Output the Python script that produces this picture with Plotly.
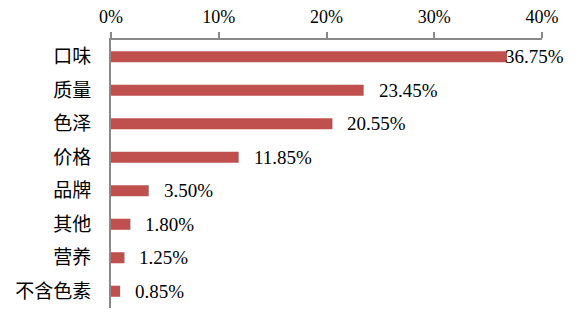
import plotly.graph_objects as go

# Survey factors and share of respondents (%)
categories = ["口味", "质量", "色泽", "价格", "品牌", "其他", "营养", "不含色素"]
shares = [36.75, 23.45, 20.55, 11.85, 3.50, 1.80, 1.25, 0.85]
tick_values = [0, 10, 20, 30, 40]
tick_labels = ["0%", "10%", "20%", "30%", "40%"]

bar_color = "#C0504D"
axis_gray = "#898989"
num_font = "Liberation Serif"
cjk_font = "Noto Sans CJK SC"

fig = go.Figure(
    go.Bar(
        x=shares,
        y=categories,
        orientation="h",
        width=0.33,
        marker=dict(color=bar_color, line=dict(width=0)),
        hoverinfo="skip",
    )
)

# Value labels placed just past each bar end; the longest one is pulled back
# so it stays inside the figure.
for cat, v in zip(categories, shares):
    fig.add_annotation(
        x=v,
        y=cat,
        xref="x",
        yref="y",
        text=f"{v:.2f}%",
        showarrow=False,
        xanchor="left",
        yanchor="middle",
        xshift=-4 if v == max(shares) else 13,
        font=dict(family=num_font, size=19, color="#000000"),
    )

fig.update_layout(
    width=577,
    height=331,
    margin=dict(l=111, r=35, t=40, b=23, autoexpand=False),
    paper_bgcolor="white",
    plot_bgcolor="white",
    showlegend=False,
    xaxis=dict(
        side="top",
        range=[0, 40],
        tickvals=tick_values,
        ticktext=tick_labels,
        ticks="outside",
        ticklen=6,
        tickwidth=2,
        tickcolor=axis_gray,
        showline=True,
        linecolor=axis_gray,
        linewidth=2,
        showgrid=False,
        zeroline=False,
        automargin=False,
        tickfont=dict(family=num_font, size=18, color="#000000"),
        ticklabelstandoff=2,
        fixedrange=True,
    ),
    yaxis=dict(
        categoryorder="array",
        categoryarray=categories,
        range=[len(categories) - 0.5, -0.5],
        showline=True,
        linecolor=axis_gray,
        linewidth=2,
        ticks="",
        showgrid=False,
        zeroline=False,
        automargin=False,
        tickfont=dict(family=cjk_font, size=19, color="#000000"),
        ticklabelstandoff=14,
        fixedrange=True,
    ),
)

fig.write_html("out.html")
